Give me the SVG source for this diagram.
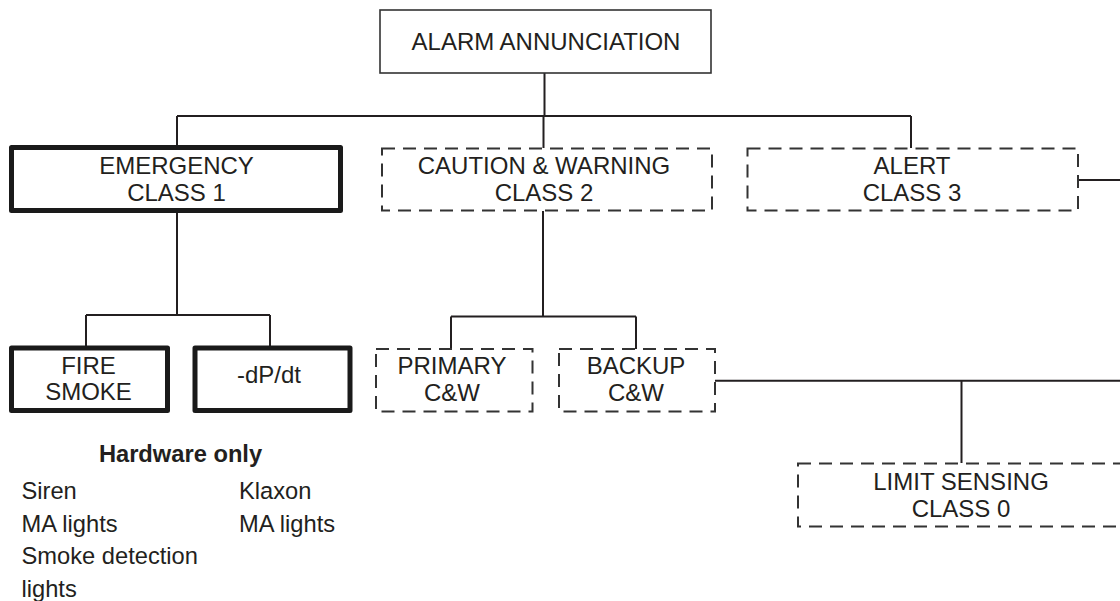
<svg xmlns="http://www.w3.org/2000/svg" width="1120" height="601" viewBox="0 0 1120 601">
<style>
  .t { font-family: "Liberation Sans", Arial, sans-serif; font-size: 24px; fill: #231f20; text-anchor: middle; }
  .l { font-family: "Liberation Sans", Arial, sans-serif; font-size: 23.7px; fill: #231f20; }
  .b { font-family: "Liberation Sans", Arial, sans-serif; font-size: 23.7px; font-weight: bold; fill: #231f20; text-anchor: middle; }
  .thin { fill: #fff; stroke: #333; stroke-width: 1.6; }
  .thick { fill: #fff; stroke: #1a1a1a; stroke-width: 5; stroke-linejoin: round; }
  .dash { fill: #fff; stroke: #333; stroke-width: 2; stroke-dasharray: 13 8; }
  .c { fill: none; stroke: #231f20; stroke-width: 2; }
</style>
<rect width="1120" height="601" fill="#fff"/>
<g id="connectors">
  <path class="c" d="M544.5 73 V116 M177 116 H911 M177 116 V147 M543.5 116 V148 M911 116 V148"/>
  <path class="c" d="M177 212 V315 M86 315 H270 M86 315 V346 M270 315 V346"/>
  <path class="c" d="M543 211 V316.5 M451 316.5 H636 M451 316.5 V349 M636 316.5 V349"/>
  <path class="c" d="M715 380.7 H1120 M961.5 380.7 V463"/>
  <path class="c" d="M1078 180 H1120"/>
</g>
<g id="alarm-annunciation">
  <rect class="thin" x="380" y="10" width="331" height="63"/>
  <text class="t" x="546" y="49.5">ALARM ANNUNCIATION</text>
</g>
<g id="emergency">
  <rect class="thick" x="11.5" y="147.5" width="329" height="63"/>
  <text class="t" x="176.5" y="174">EMERGENCY</text>
  <text class="t" x="176.5" y="200.7">CLASS 1</text>
</g>
<g id="caution-warning">
  <rect class="dash" x="382" y="148.5" width="330" height="62"/>
  <text class="t" x="544" y="174">CAUTION &amp; WARNING</text>
  <text class="t" x="544" y="200.7">CLASS 2</text>
</g>
<g id="alert">
  <rect class="dash" x="747.5" y="148.5" width="330.5" height="62"/>
  <text class="t" x="912" y="174">ALERT</text>
  <text class="t" x="912" y="200.7">CLASS 3</text>
</g>
<g id="fire-smoke">
  <rect class="thick" x="11.5" y="348" width="156" height="62.5"/>
  <text class="t" x="88.5" y="374">FIRE</text>
  <text class="t" x="88.5" y="399.5">SMOKE</text>
</g>
<g id="dpdt">
  <rect class="thick" x="195" y="348" width="155" height="62.5"/>
  <text class="t" x="269" y="382.5">-dP/dt</text>
</g>
<g id="primary-cw">
  <rect class="dash" x="376" y="349" width="156.5" height="62.5"/>
  <text class="t" x="452" y="374">PRIMARY</text>
  <text class="t" x="452" y="401">C&amp;W</text>
</g>
<g id="backup-cw">
  <rect class="dash" x="559" y="349" width="156" height="62.5"/>
  <text class="t" x="636" y="374">BACKUP</text>
  <text class="t" x="636" y="401">C&amp;W</text>
</g>
<g id="limit-sensing">
  <rect class="dash" x="798" y="463.5" width="327" height="63"/>
  <text class="t" x="961" y="490">LIMIT SENSING</text>
  <text class="t" x="961" y="516.7">CLASS 0</text>
</g>
<g id="hardware-notes">
  <text class="b" x="180.5" y="461.5">Hardware only</text>
  <text class="l" x="21.5" y="499">Siren</text>
  <text class="l" x="21.5" y="531.5">MA lights</text>
  <text class="l" x="21.5" y="564">Smoke detection</text>
  <text class="l" x="21.5" y="596.5">lights</text>
  <text class="l" x="239" y="499">Klaxon</text>
  <text class="l" x="239" y="531.5">MA lights</text>
</g>
</svg>
